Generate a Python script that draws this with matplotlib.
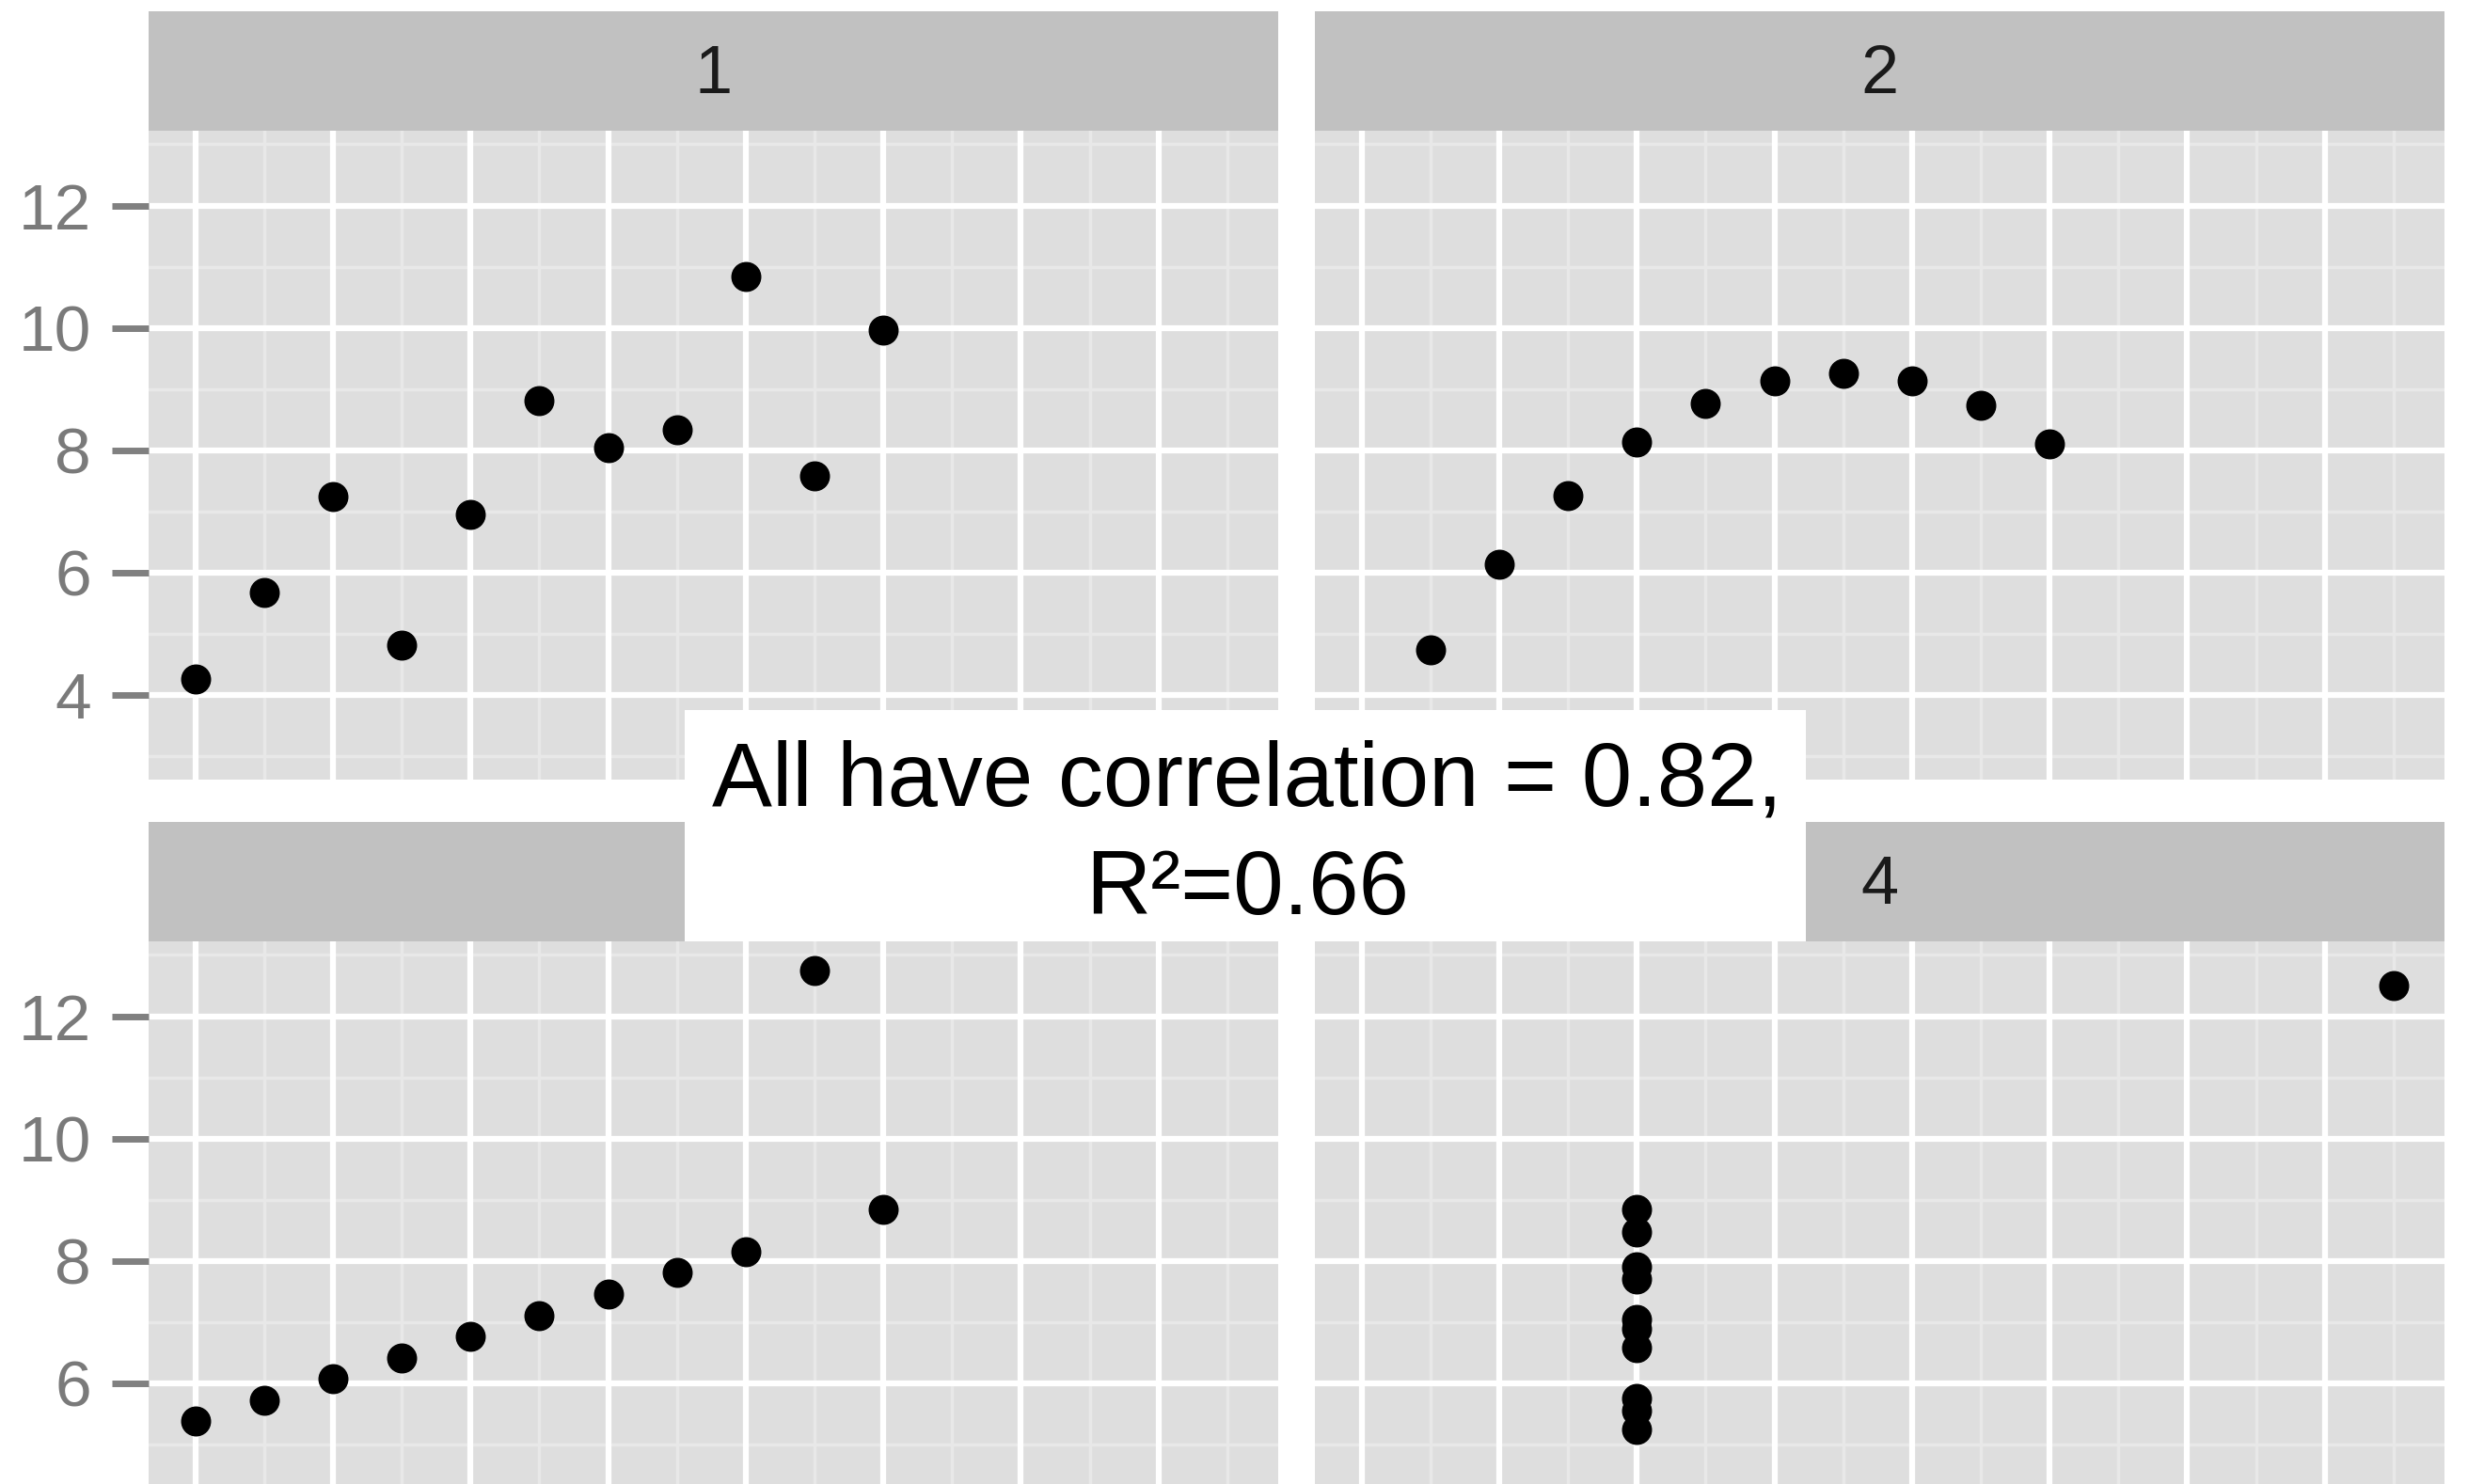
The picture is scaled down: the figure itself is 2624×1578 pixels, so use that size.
import matplotlib
matplotlib.use("Agg")
import matplotlib.pyplot as plt
from matplotlib.patches import Rectangle

# Anscombe's quartet
x123 = [10, 8, 13, 9, 11, 14, 6, 4, 12, 7, 5]
y1 = [8.04, 6.95, 7.58, 8.81, 8.33, 9.96, 7.24, 4.26, 10.84, 4.82, 5.68]
y2 = [9.14, 8.14, 8.74, 8.77, 9.26, 8.10, 6.13, 3.10, 9.13, 7.26, 4.74]
y3 = [7.46, 6.77, 12.74, 7.11, 7.81, 8.84, 6.08, 5.39, 8.15, 6.42, 5.73]
x4 = [8, 8, 8, 8, 8, 8, 8, 19, 8, 8, 8]
y4 = [6.58, 5.76, 7.71, 8.84, 8.47, 7.04, 5.25, 12.50, 5.56, 7.91, 6.89]

panel_labels = ["1", "2", "3", "4"]
x_major = [4, 6, 8, 10, 12, 14, 16, 18]
x_minor = [5, 7, 9, 11, 13, 15, 17, 19]
y_major = [4, 6, 8, 10, 12]
y_minor = [3, 5, 7, 9, 11, 13]
note_line1 = "All have correlation = 0.82,"
note_line2 = "R\u00b2=0.66"

plt.rcParams['font.family'] = ['Liberation Sans', 'DejaVu Sans']

W, H = 2624, 1578
fig = plt.figure(figsize=(W / 100, H / 100), dpi=100)
fig.patch.set_facecolor("white")

panel_bg = "#dedede"
strip_bg = "#c1c1c1"
minor_col = "#e8e8e8"

lefts = [158, 1398]
pw = 1201
tops = [139, 1001]
ph = 690
strip_h = 127

xlim = (3.32, 19.74)
ylim = (2.618, 13.222)

data = [(x123, y1), (x123, y2), (x123, y3), (x4, y4)]

for i, (xs, ys) in enumerate(data):
    r, c = divmod(i, 2)
    L, T = lefts[c], tops[r]
    ax = fig.add_axes([L / W, 1 - (T + ph) / H, pw / W, ph / H])
    ax.set_facecolor(panel_bg)
    ax.set_xlim(*xlim)
    ax.set_ylim(*ylim)
    for s in ax.spines.values():
        s.set_visible(False)
    for v in x_minor:
        ax.axvline(v, color=minor_col, lw=2.5, zorder=0.5)
    for v in y_minor:
        ax.axhline(v, color=minor_col, lw=2.5, zorder=0.5)
    for v in x_major:
        ax.axvline(v, color="white", lw=4.5, zorder=0.6)
    for v in y_major:
        ax.axhline(v, color="white", lw=4.5, zorder=0.6)
    ax.plot(xs, ys, "o", color="black", ms=22, zorder=3)
    ax.set_xticks([])
    if c == 0:
        ax.set_yticks(y_major)
        ax.set_yticklabels([str(v) for v in y_major])
        ax.tick_params(axis="y", length=28, width=5, color="#808080",
                       labelcolor="#7a7a7a", labelsize=50, pad=16)
    else:
        ax.set_yticks([])

    sax = fig.add_axes([L / W, 1 - T / H, pw / W, strip_h / H])
    sax.set_facecolor(strip_bg)
    sax.set_xticks([])
    sax.set_yticks([])
    for s in sax.spines.values():
        s.set_visible(False)
    sax.text(0.5, 0.46, panel_labels[i], ha="center", va="center",
             fontsize=52, color="#1a1a1a", transform=sax.transAxes)

# white note box over the middle
bx0, by0, bx1, by1 = 728, 755, 1920, 1001
fig.patches.append(Rectangle((bx0 / W, 1 - by1 / H), (bx1 - bx0) / W,
                             (by1 - by0) / H, transform=fig.transFigure,
                             facecolor="white", edgecolor="none", zorder=5))
cx = 1326 / W
fig.text(cx, 1 - 857 / H, note_line1, ha="center", va="baseline",
         fontsize=69, color="black", zorder=6)
fig.text(cx, 1 - 972 / H, note_line2, ha="center", va="baseline",
         fontsize=69, color="black", zorder=6)

fig.savefig("out.png", dpi=100, facecolor="white")
